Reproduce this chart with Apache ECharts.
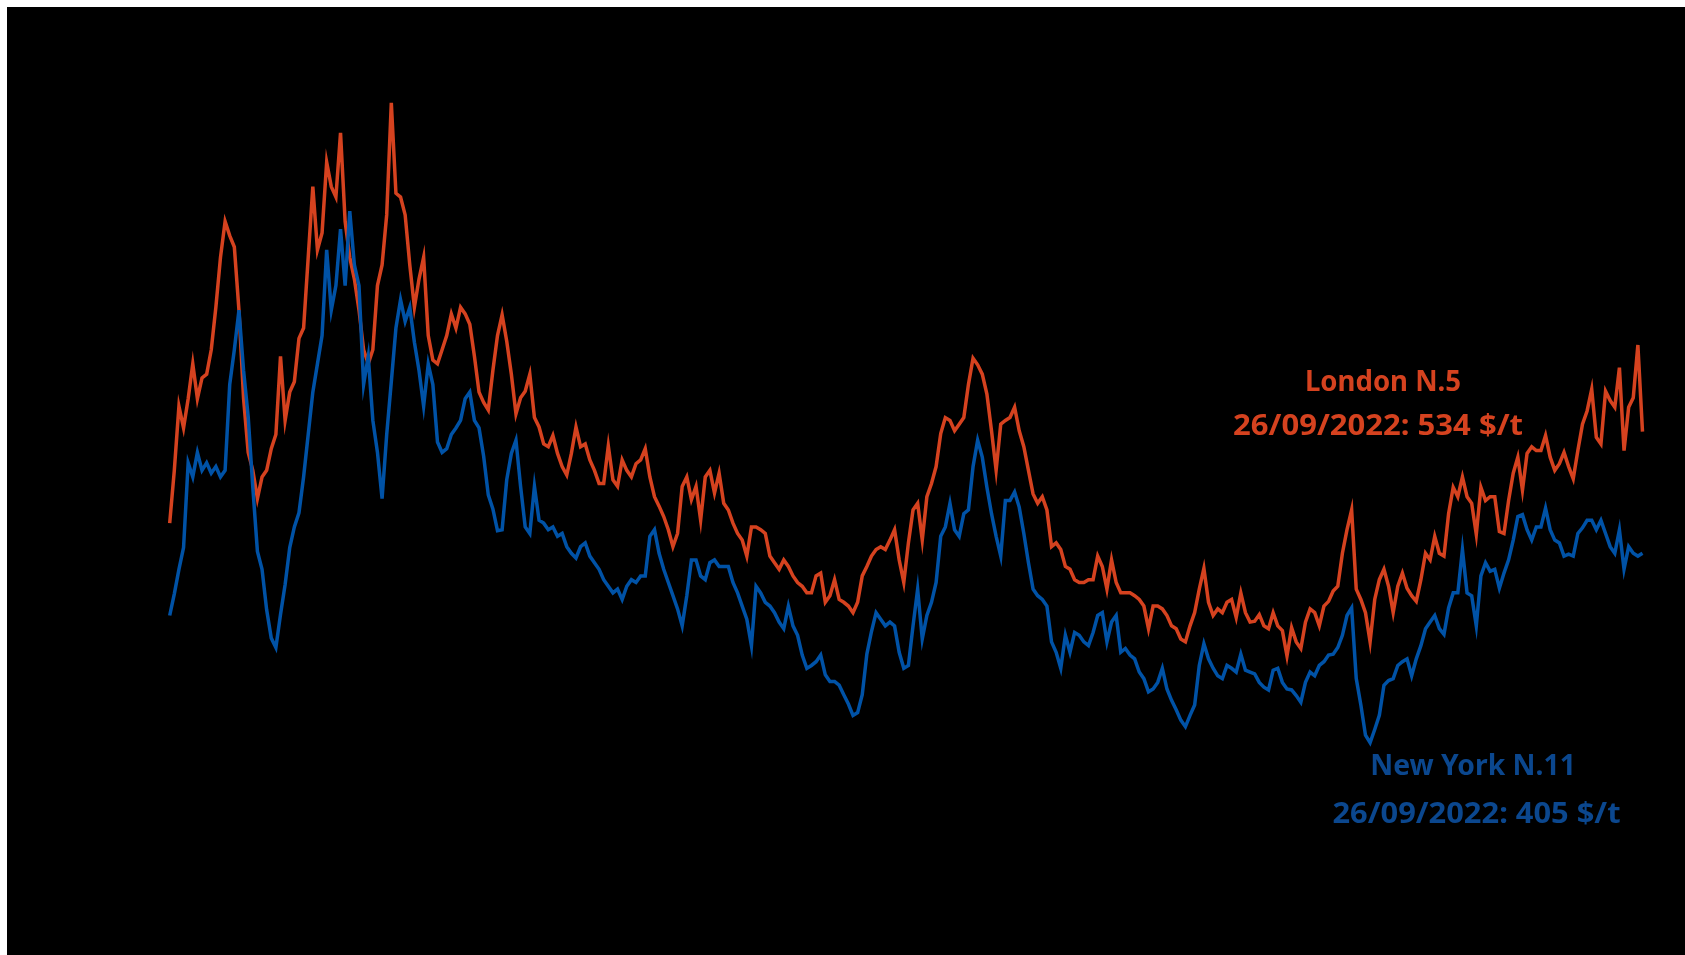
<!DOCTYPE html>
<html>
<head>
<meta charset="utf-8">
<script src="https://cdn.jsdelivr.net/npm/echarts@6/dist/echarts.min.js"></script>
<style>
html,body{margin:0;padding:0;background:#fff;overflow:hidden;width:1685px;height:955px;}
#chart{position:absolute;left:7px;top:7px;width:1678px;height:948px;background:#000;}
</style>
</head>
<body>
<div id="chart"></div>
<script>
// London N.5 (white sugar), $/t, semi-monthly readings
const london = [
437,493,561,538,569,606,569,591,595,621,
666,719,757,742,730,663,569,512,493,463,
486,493,516,531,614,546,576,587,633,644,
719,794,727,745,820,794,783,851,757,719,
696,663,621,606,621,689,711,764,883,787,
783,764,711,666,696,719,636,610,606,621,
636,659,644,666,659,648,614,576,565,557,
599,636,658,630,595,553,570,577,595,549,
539,521,518,530,511,497,488,511,539,518,
521,504,493,479,479,519,483,476,504,493,
486,500,504,516,486,465,455,444,430,412,
426,476,486,462,476,440,486,493,469,490,
458,451,437,426,419,402,433,433,430,426,
402,395,388,398,391,381,374,370,363,363,
381,384,353,360,377,356,353,349,342,353,
381,391,402,409,412,409,419,430,398,374,
416,451,458,419,465,479,497,532,549,546,
535,542,549,584,612,605,595,574,535,493,
542,546,549,560,535,518,493,468,458,465,
451,412,416,409,391,388,377,374,374,377,
377,402,391,367,398,374,363,363,363,360,
356,349,325,349,349,346,339,328,325,314,
311,328,342,367,389,353,339,346,342,353,
356,337,363,342,332,333,340,328,325,342,
328,323,296,326,311,304,332,346,342,328,
349,354,365,370,405,430,451,367,356,342,
311,356,377,388,370,342,370,384,368,360,
354,377,405,398,423,405,402,447,475,465,
486,465,458,425,475,461,465,465,428,426,
461,490,507,472,511,518,514,514,530,507,
493,500,512,497,484,514,542,556,579,528,
521,577,567,560,602,514,560,570,626,534
];
// New York N.11 (raw sugar), $/t, semi-monthly readings
const newYork = [
339,362,388,411,501,486,512,493,501,490,
497,486,493,584,621,663,599,550,475,407,
388,345,315,305,340,372,411,433,448,486,
531,576,606,636,727,663,689,749,689,768,
711,689,584,614,546,512,463,531,587,644,
674,651,666,629,599,561,606,584,523,512,
516,531,538,546,569,576,546,538,508,467,
452,429,430,483,511,525,476,433,426,476,
440,437,430,433,423,426,412,405,400,412,
416,402,395,388,377,370,363,367,356,370,
377,374,381,381,423,430,405,388,374,360,
346,328,360,398,398,381,377,395,398,391,
391,391,374,363,349,335,307,370,363,353,
349,342,332,325,349,328,318,297,283,286,
290,297,276,269,269,265,255,245,233,236,
255,298,322,342,335,328,332,328,300,283,
286,328,367,314,339,353,374,423,433,458,
430,423,447,451,497,525,507,475,447,423,
402,461,461,470,454,426,395,367,360,356,
349,311,300,283,318,300,321,318,311,307,
321,339,342,311,332,339,300,304,297,293,
279,272,258,261,268,283,261,249,239,228,
221,233,244,286,309,293,283,275,272,286,
283,279,298,281,279,277,268,263,260,281,
283,268,261,260,254,247,268,279,275,286,
290,297,298,305,318,339,347,272,244,212,
204,218,233,265,270,272,286,290,293,275,
293,307,325,332,339,325,319,347,363,363,
409,363,360,328,381,395,386,388,368,384,
398,419,444,446,430,419,433,433,453,430,
419,416,402,404,402,426,432,440,440,430,
440,426,412,405,430,388,412,405,402,405
];
const lastDate = '2022-09-26';
const seriesNames = ['London N.5', 'New York N.11'];
const endLabels = ['26/09/2022: 534 $/t', '26/09/2022: 405 $/t'];
const yTicks = [0, 100, 200, 300, 400, 500, 600, 700, 800, 900];

// semi-monthly date grid ending on the last date
const dates = [];
(function(){
  const end = Date.UTC(2022, 8, 26);
  const step = 365.25 / 24 * 86400000;
  const n = london.length;
  for (let i = 0; i < n; i++) {
    const d = new Date(end - (n - 1 - i) * step);
    dates.push(d.toISOString().slice(0, 10));
  }
  dates[n - 1] = lastDate;
})();

const RED = '#D5421F';
const BLUE = '#0052A6';
const BLUE_TXT = '#0B478E';
const FONT = '"Noto Sans", "Open Sans", sans-serif';
const TXT = 'bold 29px ' + FONT;

const chart = echarts.init(document.getElementById('chart'), null, {renderer: 'canvas'});
chart.setOption({
  backgroundColor: '#000',
  animation: false,
  grid: {left: 162.7, right: 42.5, top: 79.75, bottom: 13.25, containLabel: false},
  xAxis: {
    type: 'category',
    data: dates,
    boundaryGap: false,
    axisLine: {lineStyle: {color: '#000'}},
    axisTick: {show: false},
    axisLabel: {color: '#000', interval: 23, formatter: v => v.slice(0, 4)},
    splitLine: {show: false}
  },
  yAxis: {
    type: 'value',
    min: yTicks[0],
    max: yTicks[yTicks.length - 1],
    interval: 100,
    axisLine: {show: false},
    axisTick: {show: false},
    axisLabel: {color: '#000'},
    splitLine: {show: false}
  },
  series: [
    {
      name: seriesNames[0], type: 'line', data: london, symbol: 'none',
      lineStyle: {color: RED, width: 3.5, join: 'miter'}, itemStyle: {color: RED}, z: 2
    },
    {
      name: seriesNames[1], type: 'line', data: newYork, symbol: 'none',
      lineStyle: {color: BLUE, width: 3.5, join: 'miter'}, itemStyle: {color: BLUE}, z: 3
    }
  ],
  graphic: [
    {type: 'text', x: 1376, y: 376, scaleX: 0.95, style: {text: seriesNames[0], fill: RED, font: TXT, align: 'center', verticalAlign: 'middle'}},
    {type: 'text', x: 1371, y: 420, scaleX: 1.07, style: {text: endLabels[0], fill: RED, font: TXT, align: 'center', verticalAlign: 'middle'}},
    {type: 'text', x: 1466, y: 760, scaleX: 0.975, style: {text: seriesNames[1], fill: BLUE_TXT, font: TXT, align: 'center', verticalAlign: 'middle'}},
    {type: 'text', x: 1469.5, y: 807.5, scaleX: 1.063, style: {text: endLabels[1], fill: BLUE_TXT, font: TXT, align: 'center', verticalAlign: 'middle'}}
  ]
});
</script>
</body>
</html>
